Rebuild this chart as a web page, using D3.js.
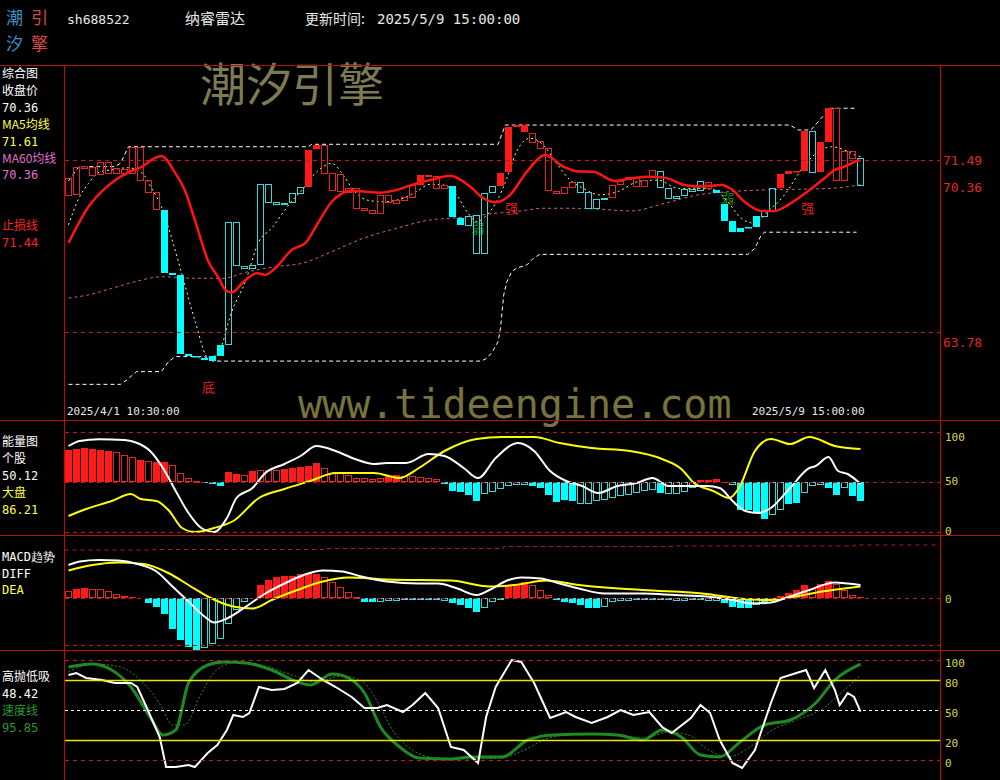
<!DOCTYPE html>
<html><head><meta charset="utf-8">
<script src="https://cdn.jsdelivr.net/npm/d3@7"></script>
<style>html,body{margin:0;background:#000;}svg{display:block}</style>
</head><body><svg id="c" width="1000" height="780"></svg>
<script>
// ---------------- DATA ----------------
const stockCode = "sh688522";
const stockName = "纳睿雷达";
const updateLabel = "更新时间:";
const updateTime = "2025/5/9 15:00:00";
const dateLabels = ["2025/4/1 10:30:00", "2025/5/9 15:00:00"];

const open = [69.90,69.93,71.13,70.80,70.83,70.90,70.90,70.90,70.87,70.57,
70.05,69.26,69.23,66.42,66.33,62.80,62.71,62.63,62.71,63.20,
68.71,68.71,66.73,66.77,70.38,70.38,69.58,69.53,69.98,70.25,
70.25,71.95,70.90,70.13,70.08,70.04,69.32,69.23,69.10,69.10,
69.59,69.55,69.68,69.81,70.35,70.75,70.22,70.22,70.31,68.89,
68.98,69.01,69.98,70.31,70.32,70.92,72.96,72.71,72.29,72.02,
70.13,70.01,70.01,70.25,70.47,70.05,69.71,69.76,69.83,70.38,
70.62,70.32,70.31,70.77,70.98,70.20,69.86,70.16,70.16,70.53,
70.20,70.13,69.49,68.74,68.44,68.49,68.96,69.19,70.20,70.23,
70.86,70.94,70.98,72.76,70.94,72.29,70.56,70.56,71.57,71.54];
const close = [70.66,71.17,71.20,71.17,71.39,71.39,71.11,71.07,72.06,72.06,
70.57,70.05,66.40,66.35,62.80,62.71,62.65,62.53,62.50,62.71,
63.23,66.77,66.63,66.65,66.81,69.60,69.49,69.49,69.58,70.01,
71.91,72.14,72.14,70.89,70.84,70.22,70.22,69.32,69.23,69.90,
69.90,69.68,69.81,70.35,70.80,70.80,70.75,70.35,68.93,68.56,
68.56,67.30,67.30,70.02,70.87,72.96,73.03,73.03,72.66,72.32,
71.99,70.08,70.25,70.47,70.05,69.34,69.34,69.71,70.35,70.53,
70.71,70.65,70.57,71.01,70.25,69.76,69.76,69.90,70.08,70.13,
70.50,69.98,68.75,68.26,68.26,68.44,68.49,68.98,69.23,70.84,
70.98,70.98,72.76,70.94,72.29,73.78,73.78,71.87,71.87,70.36];
const candleSolid = [0,0,0,0,0,0,0,0,0,0, 0,0,1,1,1,1,1,1,1,1, 0,0,0,0,0,0,0,0,0,0,
1,1,0,0,0,0,0,0,0,0, 0,0,0,0,1,0,0,0,1,1, 0,0,0,0,1,1,1,1,0,0,
0,0,0,0,0,0,0,0,0,0, 0,0,0,0,0,0,0,0,0,0, 0,1,1,1,1,1,1,0,0,1, 1,1,1,0,1,1,0,0,0,0];

// line series: [bar index, value]
const ma5 = [[0,68.57],[1.3,69.76],[2.5,70.42],[3.8,70.92],[5.4,71.03],[7.5,71.12],[9.2,70.88],[10.4,70.20],[11.7,69.31],[12.9,67.97],[14.2,66.33],[15.85,64.24],[17.5,62.61],[18.8,62.90],[20.4,64.69],[22.1,66.03],[23.8,67.82],[25.4,68.42],[27.5,69.45],[29.2,70.13],[31.3,71.03],[32.9,71.32],[34.35,70.79],[35.6,70.13],[37.3,69.68],[39.35,69.60],[41.85,69.76],[43.5,70.06],[45.2,70.38],[46.85,70.35],[48.5,69.91],[49.8,69.16],[51,68.72],[52.3,69.01],[53.5,69.60],[54.8,70.65],[56,71.84],[57.7,72.44],[59.35,72.14],[61,71.32],[62.7,70.57],[64.35,70.20],[66.4,69.91],[68.7,70.06],[71.2,70.50],[73.7,70.57],[76.2,70.20],[78.7,70.20],[80.8,70.13],[82.4,69.60],[84.1,68.86],[85.8,68.64],[87.4,69.16],[89.5,69.91],[91.6,71.03],[93.7,71.84],[95.4,72.06],[97,71.91],[98.3,71.69],[99,71.61]];
const ma60 = [[0,65.30],[2.5,65.44],[5.4,65.73],[8.3,66.03],[11.7,66.25],[15.85,66.18],[19.2,66.18],[22.5,66.48],[25.85,66.70],[29.2,66.85],[32.9,67.37],[36.85,67.97],[41,68.41],[45.2,68.79],[47.7,68.86],[50.2,68.94],[53.5,69.09],[56,69.16],[59.3,69.31],[62.7,69.31],[66.4,69.27],[70.35,69.19],[74.5,69.53],[78.7,69.91],[82.85,70.06],[87,70.13],[91.2,70.16],[95.3,70.20],[99,70.36]];
const stopLine = [[0,67.76],[2.5,69.38],[4.6,70.21],[7.5,70.92],[8.8,71.10],[11.6,71.65],[13.35,70.88],[14.6,70.06],[15.85,68.72],[17.5,66.92],[18.8,66.18],[19.6,65.66],[20.4,65.55],[21.9,66.03],[23.6,66.41],[24.6,66.33],[25.85,66.63],[27.9,67.45],[29.6,67.75],[31.3,68.72],[32.9,69.60],[33.9,69.91],[35.2,70.09],[36.85,70.06],[38.9,70.00],[41,70.13],[43.5,70.42],[45.2,70.57],[47.7,70.76],[50.2,70.28],[51.85,69.76],[53.5,69.58],[55.2,69.91],[57.3,70.95],[59.6,71.69],[61.85,71.17],[63.5,70.97],[65.6,70.94],[68.3,70.53],[70.35,70.65],[72.4,70.72],[74.5,70.68],[77,70.35],[79.1,70.28],[81.6,70.35],[82.85,70.17],[84.5,69.60],[86.6,69.19],[88.3,69.19],[89.9,69.45],[92.4,70.06],[94.5,70.65],[95.8,71.03],[97,71.17],[98.7,71.43],[99,71.44]];
const upperBand = [[0,70.53],[1.3,71.17],[5.8,71.17],[6.5,71.32],[7.5,72.06],[30,72.06],[30.4,72.17],[53.7,72.17],[54.6,73.03],[90.2,73.03],[91.2,72.81],[92.8,72.81],[95.2,73.78],[98.3,73.78]];
const lowerBand = [[0,61.44],[6.5,61.44],[7.3,61.64],[8.5,62.01],[11.6,62.01],[12.5,62.45],[13.35,62.68],[17,62.68],[18,62.48],[51.6,62.48],[52.3,62.61],[53,62.90],[53.7,63.35],[54,63.95],[54.4,65.43],[54.8,66.03],[55.4,66.48],[56,66.63],[57.3,66.78],[58.1,67.07],[58.9,67.25],[84.9,67.25],[85.8,67.52],[86.6,68.12],[87,68.24],[98.5,68.24]];
const priceLevels = [71.49, 63.78];
const priceLabels = ["71.49", "70.36", "63.78"];
const signals = [["底",17.5,61.32,"red"],["强",55.4,69.32,"red"],["强",92.4,69.32,"red"],["弱",51.2,68.43,"green"],["弱",82.4,69.79,"green"]];
const mainLegend = [["综合图","#fff"],["收盘价","#fff"],["70.36","#fff"],["MA5均线","#ffff40"],["71.61","#ffff40"],["MA60均线","#e070d0"],["70.36","#e070d0"],["",""],["",""],["止损线","#ff2020"],["71.44","#ff2020"]];

// energy panel
const energyBar = [82,83,84,83,82,81,80,77,75,72, 71,70,70,67,59,54,51,49,48,46,
60,58,57,61,62,62,62,63,64,65, 66,69,64,59,59,57,54,54,53,54,
56,57,56,56,55,54,53,48,41,40, 37,31,38,40,43,46,47,47,46,44,
37,30,32,31,28,28,31,32,34,36, 37,39,41,42,39,38,38,40,44,52,
52,53,50,47,22,22,19,13,17,22, 28,29,39,46,47,44,37,44,36,31];
const energySolid = [1,1,1,1,1,1,0,0,0,1, 0,1,1,0,0,0,0,1,1,1, 1,1,0,1,0,0,0,1,1,1,
1,1,0,0,0,0,0,0,0,0, 1,1,0,0,0,0,0,1,1,1, 1,1,0,0,0,0,0,0,1,1,
1,1,1,1,0,0,0,0,0,0, 0,0,0,0,1,0,0,0,0,1, 1,1,1,0,1,1,1,1,0,0, 1,1,0,0,0,1,1,0,1,1];
const stockEnergy = [[0,86],[1.4,91],[3.8,92.7],[7,92],[8.6,89],[10.2,81],[11.8,64],[13.4,41],[15,19],[16.6,4],[18.2,0],[19.8,14],[21,34],[23,44],[24.6,59],[27,68],[29,76],[31,86],[33.4,81],[35.8,73],[38.2,68],[39.8,69],[42.2,69],[45,78],[47,76],[49.4,64],[51.2,54],[53.4,74],[56.2,89],[58.2,81],[60.2,61],[62.2,51],[64.2,46],[66.2,39],[68.6,46],[71,49],[73,54],[75,46],[77.4,46],[79.8,46],[81.4,44],[83,31],[84.6,21],[86.2,19],[87.8,24],[90.2,44],[92.6,64],[93.4,66],[95,75],[96.2,61],[97.4,58],[99,48]];
const marketEnergy = [[0,16],[2.2,23],[5.4,31],[7.8,38],[9,33],[11,31],[12.6,21],[14.2,4],[15.8,0],[18.2,4],[20.6,11],[23.8,34],[27,43],[30.2,51],[33.4,59],[38.2,59],[41.4,54],[43.8,64],[47,81],[51,93],[54.2,95],[58.2,95],[61.4,89],[65.4,84],[70.2,81],[74.2,73],[76.6,63],[78.2,49],[80.6,41],[82.6,34],[83.8,44],[85.8,81],[87.8,93],[90.2,88],[92.6,95],[95.8,86],[99,83]];
const energyLegend = [["能量图","#fff"],["个股","#fff"],["50.12","#fff"],["大盘","#ffff40"],["86.21","#ffff40"]];
const energyTicks = [100, 50, 0];

// MACD panel
const macdBar = [0.15,0.19,0.21,0.19,0.19,0.15,0.08,0.04,0.03,0.00,
-0.10,-0.17,-0.32,-0.61,-0.84,-0.97,-1.03,-1.01,-0.92,-0.81,
-0.51,-0.23,-0.07,0.00,0.26,0.37,0.43,0.44,0.44,0.49,
0.51,0.49,0.43,0.33,0.23,0.13,0.02,-0.07,-0.08,-0.08,
-0.06,-0.05,-0.04,-0.03,-0.03,-0.03,-0.04,-0.06,-0.10,-0.13,
-0.20,-0.28,-0.19,-0.07,-0.01,0.24,0.26,0.33,0.26,0.17,
0.06,-0.04,-0.07,-0.10,-0.13,-0.20,-0.20,-0.17,-0.08,-0.05,
-0.05,-0.04,-0.04,-0.03,-0.02,-0.04,-0.05,-0.05,-0.04,-0.04,
-0.05,-0.06,-0.10,-0.17,-0.20,-0.20,-0.13,-0.08,-0.02,0.04,
0.10,0.16,0.26,0.19,0.29,0.35,0.29,0.16,0.06,0.02];
const macdSolid = [0,1,1,0,0,0,0,1,1,0, 1,1,1,1,1,1,1,0,0,0, 0,0,0,0,1,1,1,1,1,1,
1,1,0,0,0,0,0,1,1,0, 0,0,0,0,0,0,0,0,1,1, 1,1,0,0,0,1,1,1,0,0,
0,1,1,1,1,1,1,0,0,0, 0,0,0,0,0,0,0,0,0,0, 0,0,1,1,1,1,0,0,0,1, 1,1,1,0,1,1,0,0,0,1];
const diffLine = [[0,0.66],[1.4,0.73],[3.8,0.76],[6.2,0.75],[8.6,0.68],[11,0.53],[13,0.23],[15,-0.07],[17,-0.37],[18.2,-0.49],[19.8,-0.41],[22.2,-0.17],[24.6,0.09],[27,0.29],[29.4,0.46],[31.8,0.55],[34.2,0.53],[36.6,0.43],[39.8,0.33],[43.8,0.29],[46.2,0.29],[48.6,0.19],[51,0.06],[52.6,0.16],[55,0.36],[56.6,0.41],[59,0.39],[61.4,0.29],[63.8,0.19],[67,0.09],[71.8,0.09],[75.8,0.06],[79.8,0.03],[83,-0.04],[85.4,-0.11],[87.8,-0.09],[90.2,0.03],[92.6,0.16],[95.8,0.31],[97.4,0.29],[99,0.26]];
const deaLine = [[0,0.55],[3,0.66],[6.2,0.71],[9.4,0.68],[12.6,0.49],[15,0.26],[17.4,0.03],[20.6,-0.17],[23,-0.21],[25.4,-0.04],[28.6,0.16],[31.8,0.33],[35,0.41],[39.8,0.37],[47.8,0.35],[52.6,0.23],[55.8,0.26],[59.8,0.35],[63.8,0.26],[71.8,0.16],[79.8,0.08],[83.8,-0.01],[87.8,-0.04],[90.2,0.01],[94.2,0.13],[99,0.23]];
const macdUpper = [[-0.5,0.96],[10.6,0.96],[10.6,0.97],[32,0.97],[32,0.99],[54.4,0.99],[54.4,1.03],[75.9,1.03],[75.9,1.04],[98.3,1.04],[98.3,1.06],[108.9,1.06]];
const macdLevels = [0, -0.94];
const macdLegend = [["MACD趋势","#fff"],["DIFF","#fff"],["DEA","#ffff40"]];

// 高抛低吸 panel
const kdjWhite = [[0,85],[1,87],[2.2,82],[4.2,80],[5.8,77],[7.8,77],[8.6,73],[9.8,52],[11.4,23],[12.2,-7],[13.4,-7],[15,-5],[15.8,-7],[17.4,7],[18.6,15],[19.8,30],[20.6,45],[21.8,43],[22.6,47],[23.8,73],[25.4,70],[27,71],[28.6,77],[30,90],[31.8,80],[33.4,73],[35.4,63],[37,52],[38.6,52],[39.8,55],[41.8,48],[43,55],[44.6,67],[46.2,52],[47.8,13],[49.4,10],[51.2,-3],[52.2,43],[53.4,73],[55.4,100],[56.6,98],[58.2,77],[60.2,42],[62.2,48],[63.4,43],[65.4,37],[67.4,43],[69,50],[70.6,45],[72.6,48],[74.2,33],[75.4,27],[77.8,42],[79,55],[80.2,47],[81.4,20],[83,-3],[84.2,-8],[85.8,10],[87.8,57],[89,82],[91,87],[92.2,90],[93.2,72],[94.6,90],[95.8,70],[96.4,55],[97.4,67],[98.2,63],[99,48.42]];
const kdjSpeed = [[0,93],[3,96],[5.4,90],[7.8,73],[10.2,43],[11.8,25],[13.4,30],[15,77],[17.4,95],[19.4,98],[22.2,97],[25.4,90],[28.6,78],[30.2,75],[33,86],[35,82],[37,67],[39,33],[41.4,13],[43.8,2],[47.8,1],[50.2,3],[54.2,3],[57.4,20],[60.6,25],[65.4,26],[68.6,25],[71.8,20],[74.2,30],[76.6,23],[79,5],[81.4,3],[83.8,17],[87,35],[90.2,40],[93.4,57],[95.8,80],[99,95.85]];
const kdjSpeedSig = [[0,88],[3,96],[6,94],[9,80],[11.5,55],[13,35],[14.5,35],[16.5,65],[18.5,90],[21,98],[24,95],[28,85],[31,78],[34,84],[36.5,80],[38.5,60],[40.5,30],[43,10],[46,2],[50,1],[54,2],[57,10],[60,22],[64,26],[68,25],[72,22],[75,28],[77.5,25],[80,10],[82.5,3],[85,12],[88,30],[91,40],[94,50],[97,70],[99,85]];
const kdjTicks = [100, 80, 50, 20, 0];
const kdjLegend = [["高抛低吸","#fff"],["48.42","#fff"],["速度线","#2a9a2a"],["95.85","#2a9a2a"]];

// ---------------- DRAW ----------------
const svg = d3.select("#c");
const CJK = "'Noto Sans CJK SC', sans-serif";
const MONO = "'DejaVu Sans Mono', 'Liberation Mono', monospace";
const RED = "#ff1a1a", CYAN = "#00ffff", CYANH = "#3ad8d8", GRID = "#c01818", BORDER = "#b01010";

svg.append("rect").attr("width",1000).attr("height",780).attr("fill","#000");

const x = d3.scaleLinear().domain([0,99]).range([68.5,860.5]);
const yP = d3.scaleLinear().domain([63.78,71.49]).range([332,159.5]);
const yE = d3.scaleLinear().domain([0,100]).range([532,432]);
const yM = d3.scaleLinear().domain([-1,1]).range([648,548]);
const yK = d3.scaleLinear().domain([0,100]).range([760,660]);

const defs = svg.append("defs");
function clip(id, y0, y1){ defs.append("clipPath").attr("id",id).append("rect").attr("x",65).attr("y",y0).attr("width",875).attr("height",y1-y0); }
clip("cMain",66,420); clip("cE",421,535); clip("cM",536,650); clip("cK",651,780);

// watermarks
svg.append("text").attr("x",200).attr("y",101).attr("font-family",CJK).attr("font-size",46)
  .attr("fill","#7e7a52").text("潮汐引擎");
svg.append("text").attr("x",298).attr("y",418).attr("font-family",MONO).attr("font-size",40)
  .attr("fill","#77733f").text("www.tideengine.com");

// header logo (two rows)
const logoRows = [[["潮","#3d8fc6"],["引","#d84848"]],[["汐","#3d8fc6"],["擎","#d84848"]]];
logoRows.forEach((row,r)=>{
  const t = svg.append("text").attr("x",6).attr("y",24+r*26).attr("font-family",CJK).attr("font-size",17).attr("letter-spacing",8);
  row.forEach(c=>t.append("tspan").attr("fill",c[1]).text(c[0]));
});
svg.append("text").attr("x",67).attr("y",24).attr("font-family",MONO).attr("font-size",13).attr("fill","#e8e8e8").text(stockCode);
svg.append("text").attr("x",185).attr("y",24).attr("font-family",CJK).attr("font-size",15).attr("fill","#e8e8e8").text(stockName);
const hdr = svg.append("text").attr("y",24).attr("fill","#e8e8e8");
hdr.append("tspan").attr("x",305).attr("font-family",CJK).attr("font-size",14).text(updateLabel);
hdr.append("tspan").attr("x",377).attr("font-family",MONO).attr("font-size",14).text(updateTime);

const dashed = (g, y, x0, x1, color, dash) => g.append("line").attr("x1",x0).attr("x2",x1)
  .attr("y1",Math.round(y)+0.5).attr("y2",Math.round(y)+0.5).attr("stroke",color).attr("stroke-dasharray",dash||"4,4");
const isNum = s => /^[0-9.]+$/.test(s);

// ---- main panel ----
const gMain = svg.append("g").attr("clip-path","url(#cMain)");
priceLevels.forEach(v=>dashed(svg, yP(v), 65, 940, GRID));
const ln = (s, curve) => d3.line().x(d=>x(d[0])).y(d=>s(d[1])).curve(curve||d3.curveMonotoneX);
gMain.append("path").datum(ma60).attr("d",ln(yP)).attr("fill","none").attr("stroke","#d0608c").attr("stroke-dasharray","3,3");
gMain.append("path").datum(upperBand).attr("d",ln(yP,d3.curveLinear)).attr("fill","none").attr("stroke","#fff").attr("stroke-dasharray","4,3");
gMain.append("path").datum(lowerBand).attr("d",ln(yP,d3.curveLinear)).attr("fill","none").attr("stroke","#fff").attr("stroke-dasharray","4,3");
signals.forEach(s=>gMain.append("text").attr("x",x(s[1])).attr("y",yP(s[2])+5).attr("text-anchor","middle")
  .attr("font-family",CJK).attr("font-size",13).attr("fill",s[3]==="red"?"#e02020":"#1f8f1f").text(s[0]));
gMain.append("path").datum(ma5).attr("d",ln(yP)).attr("fill","none").attr("stroke","#ffff60").attr("stroke-dasharray","2,3");
open.forEach((o,i)=>{
  const c = close[i], up = c>=o, col = up?RED:CYAN;
  const t = yP(Math.max(o,c)), b = yP(Math.min(o,c));
  const cx = x(i);
  if(candleSolid[i]){
    gMain.append("rect").attr("x",cx-3.5).attr("y",Math.round(t)).attr("width",7).attr("height",Math.max(1.5,Math.round(b)-Math.round(t))).attr("fill",col);
  } else {
    gMain.append("rect").attr("x",cx-3).attr("y",Math.round(t)+0.5).attr("width",6).attr("height",Math.max(1,Math.round(b)-Math.round(t)))
      .attr("fill","none").attr("stroke",up?"#e02828":CYANH).attr("stroke-width",1);
  }
});
gMain.append("path").datum(stopLine).attr("d",ln(yP)).attr("fill","none").attr("stroke","#ff1414").attr("stroke-width",2.5);
const lblOff = [0, 2, 10];
priceLabels.forEach((t,i)=>svg.append("text").attr("x",943).attr("y",yP(+t)+lblOff[i]+5).attr("font-family",MONO).attr("font-size",13).attr("fill","#e02828").text(t));
svg.append("text").attr("x",67).attr("y",415).attr("font-family",MONO).attr("font-size",11).attr("fill","#e8e8e8").text(dateLabels[0]);
svg.append("text").attr("x",752).attr("y",415).attr("font-family",MONO).attr("font-size",11).attr("fill","#e8e8e8").text(dateLabels[1]);
mainLegend.forEach((d,i)=>{ if(!d[0]) return;
  svg.append("text").attr("x",2).attr("y",78+i*16.9).attr("font-family",isNum(d[0])?MONO:CJK).attr("font-size",12).attr("fill",d[1]).text(d[0]); });

// ---- energy panel ----
const gE = svg.append("g").attr("clip-path","url(#cE)");
energyTicks.forEach(v=>dashed(svg, yE(v), 65, 940, GRID));
energyBar.forEach((v,i)=>{
  const up = v>=50, col = up?RED:CYAN;
  const t = Math.round(yE(Math.max(v,50))), b = Math.round(yE(Math.min(v,50)));
  if(energySolid[i]) gE.append("rect").attr("x",x(i)-3.5).attr("y",t).attr("width",7).attr("height",Math.max(1,b-t)).attr("fill",col);
  else gE.append("rect").attr("x",x(i)-3).attr("y",t+0.5).attr("width",6).attr("height",Math.max(1,b-t-1)).attr("fill","none").attr("stroke",up?"#e02828":CYANH);
});
gE.append("path").datum(marketEnergy).attr("d",ln(yE)).attr("fill","none").attr("stroke","#ffff00").attr("stroke-width",2);
gE.append("path").datum(stockEnergy).attr("d",ln(yE)).attr("fill","none").attr("stroke","#fff").attr("stroke-width",2);
energyTicks.forEach(v=>svg.append("text").attr("x",945).attr("y",yE(v)+(v===100?9:3)).attr("font-family",MONO).attr("font-size",11).attr("fill","#d8d840").text(v));
energyLegend.forEach((d,i)=>svg.append("text").attr("x",2).attr("y",446+i*17).attr("font-family",isNum(d[0])?MONO:CJK).attr("font-size",12).attr("fill",d[1]).text(d[0]));

// ---- MACD panel ----
const gM = svg.append("g").attr("clip-path","url(#cM)");
gM.append("path").datum(macdUpper).attr("d",ln(yM,d3.curveStepAfter)).attr("fill","none").attr("stroke",GRID).attr("stroke-dasharray","4,4");
macdLevels.forEach(v=>dashed(svg, yM(v), 65, 940, GRID));
macdBar.forEach((v,i)=>{
  if(Math.abs(v)<0.005) return;
  const up = v>=0, col = up?RED:CYAN;
  const t = Math.round(yM(Math.max(v,0))), b = Math.round(yM(Math.min(v,0)));
  if(macdSolid[i]) gM.append("rect").attr("x",x(i)-3.5).attr("y",t).attr("width",7).attr("height",Math.max(1,b-t)).attr("fill",col);
  else gM.append("rect").attr("x",x(i)-3).attr("y",t+0.5).attr("width",6).attr("height",Math.max(1,b-t-1)).attr("fill","none").attr("stroke",up?"#e02828":CYANH);
});
gM.append("path").datum(deaLine).attr("d",ln(yM)).attr("fill","none").attr("stroke","#ffff00").attr("stroke-width",2);
gM.append("path").datum(diffLine).attr("d",ln(yM)).attr("fill","none").attr("stroke","#fff").attr("stroke-width",2);
svg.append("text").attr("x",945).attr("y",yM(0)+5).attr("font-family",MONO).attr("font-size",11).attr("fill","#d8d840").text("0");
macdLegend.forEach((d,i)=>svg.append("text").attr("x",2).attr("y",561+i*16.7).attr("font-family",MONO).attr("font-size",12).attr("fill",d[1]).text(d[0]));

// ---- KDJ panel ----
const gK = svg.append("g").attr("clip-path","url(#cK)");
dashed(svg, yK(100), 65, 940, GRID); dashed(svg, yK(0), 65, 940, GRID);
[80,20].forEach(v=>svg.append("line").attr("x1",65).attr("x2",940).attr("y1",Math.round(yK(v))+0.5).attr("y2",Math.round(yK(v))+0.5).attr("stroke","#e8e800").attr("stroke-width",1.3));
dashed(svg, yK(50), 65, 940, "#ffffff", "3,3");
gK.append("path").datum(kdjSpeedSig).attr("d",ln(yK)).attr("fill","none").attr("stroke","#2a8f2a").attr("stroke-width",1).attr("stroke-dasharray","2,2");
gK.append("path").datum(kdjSpeed).attr("d",ln(yK)).attr("fill","none").attr("stroke","#1f8a1f").attr("stroke-width",3);
gK.append("path").datum(kdjWhite).attr("d",ln(yK,d3.curveLinear)).attr("fill","none").attr("stroke","#fff").attr("stroke-width",2);
kdjTicks.forEach(v=>svg.append("text").attr("x",945).attr("y",yK(v)+7).attr("font-family",MONO).attr("font-size",11).attr("fill","#d8d840").text(v));
kdjLegend.forEach((d,i)=>svg.append("text").attr("x",2).attr("y",681+i*16.9).attr("font-family",isNum(d[0])?MONO:CJK).attr("font-size",12).attr("fill",d[1]).text(d[0]));

// ---- borders ----
[65,420,535,650].forEach(y=>svg.append("line").attr("x1",0).attr("x2",1000).attr("y1",y+0.5).attr("y2",y+0.5).attr("stroke",BORDER).attr("stroke-width",1.2));
[64,940].forEach(xx=>svg.append("line").attr("x1",xx+0.5).attr("x2",xx+0.5).attr("y1",65).attr("y2",780).attr("stroke",BORDER).attr("stroke-width",1.2));
</script></body></html>
